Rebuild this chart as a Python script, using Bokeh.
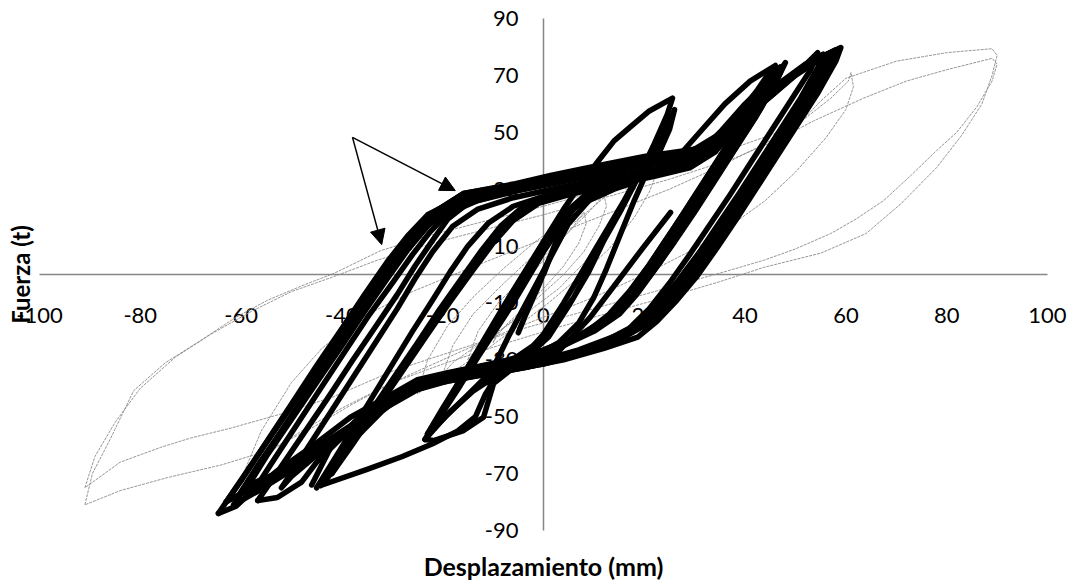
from bokeh.plotting import figure
from bokeh.models import FixedTicker, Label, Arrow, NormalHead
from bokeh.embed import file_html
from bokeh.resources import INLINE
import math

# ---------------- data ----------------
x_ticks = [-100, -80, -60, -40, -20, 0, 20, 40, 60, 80, 100]
y_ticks = [-90, -70, -50, -30, -10, 10, 30, 50, 70, 90]

# thin dotted series (ensayo 2)
g1_x = [-91, -89.5, -86, -81.3, -75, -68, -61, -54.8, -48, -41.7, -32.3, -22, -10, 0, 12, 25, 37, 45, 50.4, 55, 60, 70, 80, 89,
        90, 89, 87, 83, 78, 71, 64, 55, 43.7, 35, 27, 15, 3, -9, -20, -30, -38.3, -46, -54.8, -64, -74.6, -84, -91]
g1_y = [-81, -70, -58, -40.8, -31, -23.2, -15, -9.1, -4, 0.3, 8.4, 14, 19.5, 24, 30, 37, 44, 49, 52.4, 61, 69, 75, 78, 79.4,
        77, 70, 60, 49, 37.6, 25, 14.4, 7.5, 2.5, -2.5, -6.7, -12.5, -18.5, -25, -31.5, -38, -46, -54, -62, -67, -71.4, -76, -81]
g2_x = [-91, -89, -85, -80, -73, -66, -58, -50, -42, -33, -22, -10, 0, 12, 25, 38, 46, 53.6, 63.5, 72, 80, 89,
        90, 89, 86, 82, 78, 73, 67.5, 62, 57, 50, 43.7, 36, 28, 18, 6, -6, -18, -30, -41.7, -52, -62, -70, -76, -84, -91]
g2_y = [-75, -64, -52, -40, -29, -21, -13, -6, -1, 5, 11, 16.5, 21, 27, 33.5, 41, 47, 54, 62, 68, 72, 76,
        74, 68, 59, 50, 43.6, 35, 26, 19.5, 14.4, 9, 5, 1, -3, -8, -14, -20, -27, -34, -43, -49, -54, -57.5, -60.8, -66, -75]
g3_x = [-60, -56, -50, -44, -36, -26, -15, -5, 5, 15, 25, 35, 45, 52, 57, 60.5, 61,
        61.5, 60, 56, 50, 44, 37, 30, 20, 10, 0, -10, -20, -30, -40, -48, -54, -58, -60]
g3_y = [-72, -55, -38, -26, -15, -6, 2, 9, 16, 23, 30, 38, 47, 55, 62, 68, 71,
        66, 58, 48, 36, 26, 17, 9, 0, -8, -15, -22, -30, -38, -47, -55, -62, -67, -72]
g4_x = [-25, -23, -19, -14, -8, -2, 4, 10, 15, 19, 22, 22.5, 21, 18, 13, 7, 1, -5, -11, -17, -21, -25]
g4_y = [-42, -30, -18, -8, 2, 11, 19, 26, 32, 37, 40, 36, 29, 20, 9, -1, -10, -18, -26, -33, -37, -42]
g5_x = [-20, -18, -14, -9, -3, 3, 8, 12, 16, 16.5, 15, 12, 8, 3, -3, -9, -14, -18, -20]
g5_y = [-35, -25, -14, -5, 5, 14, 21, 27, 33, 29, 22, 13, 4, -5, -13, -20, -26, -31, -35]
g6_x = [-15, -13, -9, -4, 1, 5, 9, 12, 12.5, 11, 8, 4, -1, -6, -10, -13, -15]
g6_y = [-30, -20, -10, -1, 8, 15, 22, 28, 24, 17, 8, 0, -8, -16, -22, -26, -30]
g7_x = [-10, -8, -5, -1, 3, 6, 8, 8.5, 7, 4, 0, -4, -7, -9, -10]
g7_y = [-24, -15, -6, 3, 11, 17, 22, 18, 11, 3, -5, -12, -17, -21, -24]

# thick series (ensayo 1)
t1_x = [0, 2, 4, 5, 3.5, 1, -2, -4, -5, -3.5, -1, 1.5, 4, 5.5]
t1_y = [0, 9, 17, 22, 16, 5, -8, -16, -20.5, -14, -4, 7, 17, 23]
t2_x = [5.5, 9, 13, 18, 16, 13, 10, 7, 4, 0, -4, -8, -11, -9.5, -7, -4, -1, 2, 5, 9, 14, 18]
t2_y = [23, 28, 31, 32.4, 26, 17, 8, -1, -10, -21, -29, -35, -38, -31, -22, -12, -2, 8, 18, 26, 30, 32.4]
t3_x = [18, 15, 12, 9, 5, 1, -4, -9.9, -11.9, -16, -21.8, -23.5, -20.5, -17, -13.5, -10, -6.5, -3, 0.5, 4, 7.5, 10.9,
        14, 17.3, 21, 25.6, 24.5, 22, 19, 15.5, 12, 9, 6, 2, -2, -7, -12, -16, -20, -23]
t3_y = [32.4, 22, 12, 1, -11, -22, -30, -38.3, -50.2, -55, -58.4, -58, -49, -38.5, -28, -17.5, -7, 3, 13, 23, 32, 40,
        47, 52, 57.5, 62, 56, 46, 35, 23, 12, 2, -8, -18, -25, -31, -37, -44, -51, -56]
t4_x = [-23, -20, -16.5, -13, -9.5, -6, -2.5, 1, 4.5, 9, 15, 20, 23, 25, 26, 24, 21, 18, 15, 12.5, 10, 7, 3, -2,
        -8, -14, -19, -23.5]
t4_y = [-56, -47, -37, -27, -17, -7, 3, 13, 22, 29, 33, 36, 43, 51, 58, 50, 38, 26, 13, 2, -8, -17, -24, -29,
        -34, -41, -49, -58]
t5_x = [-23.5, -20, -16.5, -13, -9.5, -6, -3, 0, 3, 6, 10, 15, 21, 26, 31, 36, 41, 46, 44.5, 41, 37, 33, 29, 25, 21,
        17, 13, 8, 2, -4, -9, -11.5, -13.5, -17, -22, -28, -35, -44.2]
t5_y = [-58, -48.5, -39, -29, -19.5, -10, -1, 8, 16, 23, 29, 33, 36, 40, 50, 60, 68, 73.5, 68, 58, 47, 36, 25, 14, 3.5,
        -6, -14, -21, -27, -31.5, -35, -42, -50, -55, -59.5, -64, -68.5, -74.2]
t6_x = [-44.2, -40, -35, -30, -25, -20.5, -16.5, -12.5, -8.5, -4, 2, 10, 18, 25, 30, 35, 40, 44, 47, 45.5, 42, 38, 34,
        30, 26, 22, 18, 14, 9, 3, -4, -11, -18, -23, -28, -33, -38, -42]
t6_y = [-74.2, -63, -50, -37, -24, -12, -2, 8, 17, 24, 28.5, 31.5, 34.5, 37, 41, 50, 60, 67, 73, 68, 57, 46, 35,
        24, 13.5, 3, -6, -13.5, -20, -25.5, -29.5, -32.5, -35, -37.5, -42, -49, -58, -70]
t7_x = [-42, -38, -33, -28, -23, -18.5, -14, -10, -6, -1, 6, 14, 22, 29, 34, 38.5, 42, 44.5, 46.5, 45, 41.5, 37.5,
        33.5, 29.5, 25.5, 21.5, 17.5, 13, 7, 0, -7, -14, -20, -24.5, -30, -36, -41, -45, -48, -52.8, -56.7]
t7_y = [-70, -60, -47, -34, -21, -9.5, 1.5, 11, 19, 25, 28.5, 31.5, 34.5, 37.5, 43, 52, 60, 66, 72, 67, 56, 45,
        34, 23, 12.5, 2, -7.5, -15, -21.5, -26.5, -30, -33, -35.5, -37.5, -43, -51, -59, -66, -73, -78.4, -79.5]
t8_x = [-56.7, -53, -48, -43, -38, -33, -29, -25.5, -22, -19, -15, -8, 0, 10, 20, 28, 34, 40, 46, 51, 54.4,
        53, 49, 45, 41, 37, 33, 29, 25, 21, 17, 12, 5, -3, -12, -21, -27, -33, -40, -47, -53, -58.5]
t8_y = [-79.5, -70, -57, -44, -30.5, -17.5, -7, 3, 12, 19.5, 25, 28.5, 31.5, 35, 38.5, 41.5, 46, 55, 64, 72, 78,
        72, 61, 50, 39, 28, 17.5, 7, -3, -12, -19, -23.5, -28, -32, -35, -37.5, -41, -48, -56, -64, -70, -74]
t9_x = [-58.5, -55, -50, -45, -40, -35.5, -31, -27, -23, -19, -12, -4, 6, 16, 26, 32, 38, 44, 50, 56,
        55, 51, 47, 43, 39, 35, 31, 27, 23, 19, 14, 6, -3, -13, -22, -29, -36, -43, -50, -56, -60.5]
t9_y = [-74, -64, -51, -38, -25, -13, -1.5, 8.5, 17, 23, 27, 30.5, 34, 37.5, 41, 44, 52, 61, 70, 77,
        72.5, 61, 50, 39, 28, 17, 6.5, -3, -11, -18.5, -23, -28.5, -32.5, -35.5, -38.5, -43, -51, -59, -67, -73, -77.7]
t10_x = [-60.5, -57, -52, -47, -42, -37.5, -33, -29, -25, -21.8, -15.9, -6, 4, 14, 24, 31, 37, 43, 49, 54, 58,
         57, 53, 49, 45, 41, 37, 33, 29, 25, 21, 16, 9, 0, -10, -20, -26, -32, -39, -46, -53, -59, -63]
t10_y = [-77.7, -68, -55, -41.5, -28, -16, -4, 6.5, 15, 21.8, 28.5, 31.5, 34.5, 38, 41.5, 44, 51, 60, 69, 75.5, 79,
         74, 63, 52, 41, 30, 19, 8.5, -1.5, -10, -17, -22, -27, -31.5, -34.5, -37, -40, -46, -54, -62, -70, -76, -80]
t11_x = [-63, -60, -55, -50, -45, -40, -35.5, -31, -27, -23, -17, -8, 2, 12, 22, 30, 36, 42, 48, 54, 59,
         58, 54.5, 50.5, 46.5, 42.5, 38.5, 34.5, 30.5, 26.5, 22.5, 18.7, 12, 4, -6, -16, -24, -28.4, -33, -38.3,
         -46.2, -52.8, -58, -61, -64.5]
t11_y = [-80, -72.5, -59, -45.5, -32, -19, -7, 4.5, 13.5, 21, 26.5, 30, 33.5, 37, 40.5, 43.5, 50, 59, 68, 75.5, 79.8,
         75, 64, 53, 42, 31, 20, 9.5, -0.5, -9, -16.5, -22, -26, -30, -33.5, -36, -38, -40.8, -45, -50.2,
         -60.8, -69, -76.5, -81.5, -84]
t12_x = [-64.5, -62, -58, -53, -48, -43, -38, -34, -30, -26, -21.8, -15.9, -6, 1.4, 10, 20, 28, 32]
t12_y = [-84, -77.5, -67, -54, -41, -27.5, -14.5, -3.5, 6, 14.5, 21.8, 28.5, 31.8, 34.8, 38, 41.5, 43.5, 44.7]
t13_x = [-5, 3, 9.3, 15.3, 20, 25.2]
t13_y = [-31, -27, -15, -1, 10, 21.8]
t14_x = [-43, -39, -34, -29, -24, -19.5, -15, -11, -7, -2, 5, 13, 21, 28, 33, 38, 42, 45.5, 48, 46.5, 43, 39, 35, 31,
         27, 23, 19, 15, 10, 4, -3, -10, -17, -22, -27, -32, -37, -41, -43]
t14_y = [-72, -61.5, -48.5, -35.5, -22.5, -10.5, 0, 10, 18.5, 25.5, 29.5, 32.5, 35.5, 38.5, 42.5, 52, 61, 68, 74.5, 69,
         58, 47, 36, 25, 14.5, 4, -5.5, -13, -19.5, -24.5, -28.5, -31.5, -34, -36.5, -41, -48, -57, -65, -72]
t15_x = [-61.5, -58, -53, -48, -43, -38.5, -34, -30, -26, -22.5, -17, -9, 1, 11, 21, 29, 35, 41, 47, 52, 57, 56, 52,
         48, 44, 40, 36, 32, 28, 24, 20, 15, 8, -1, -11, -19, -25, -31, -38, -45, -52, -57, -61.5]
t15_y = [-81, -71.5, -58, -44.5, -31, -19, -6.5, 4, 13, 20, 26, 29.5, 33, 36.5, 40, 43, 49.5, 58.5, 67.5, 74, 78, 73,
         62, 51, 40, 29, 18, 7.5, -2, -10.5, -17.5, -22.5, -27.5, -31.5, -35, -37.5, -40.5, -46.5, -55, -63, -71,
         -76.5, -81]
t16_x = [-45, -41, -36, -31, -26, -22, -18.5, -15, -11, -6, 0, 8, 16, 24, 30, 35, 39, 42.5, 45, 43.5, 40, 36, 32, 28,
         24, 20.5, 17, 13.5, 9, 3, -4, -12, -19, -25, -31, -37, -42, -46]
t16_y = [-75, -63.5, -49, -34.5, -20, -9, 1, 10, 18, 24, 27.5, 30.5, 33.5, 36.5, 40, 48, 57, 65, 71.5, 66, 55, 44, 33,
         22, 11.5, 2, -7, -14, -20, -25, -29, -32, -34.5, -37, -43, -51, -60, -74]
t17_x = [-57.5, -54, -49, -44, -39, -34.5, -30, -26, -22.5, -19, -13, -5, 5, 15, 25, 31, 37, 43, 48.5, 53, 55.5,
         54.5, 51, 47, 43, 39, 35, 31, 27, 23, 19, 14.5, 7, -2, -11, -20, -27, -33, -40, -47, -53, -57.5]
t17_y = [-76, -66.5, -53, -39.5, -26, -14, -3, 7, 15, 21.5, 26, 29.5, 33, 36.5, 40, 43, 51, 60, 68.5, 75, 77.5,
         73, 62, 51, 40, 29, 18.5, 8, -1.5, -10, -17, -21.5, -26.5, -31, -34, -36.5, -40, -47, -55.5, -64, -71, -76]
t18_x = [-52, -49, -45, -41, -37, -33, -29, -25.5, -22, -18, -13, -6, 3, 13, 23, 30, 35, 40, 44, 47,
         45.5, 42, 38, 34, 30, 26, 22, 18.5, 15, 10, 4, -3, -10, -17, -24, -29, -35, -41, -46, -50, -52]
t18_y = [-75, -67, -56, -45, -34, -23, -12, -1.5, 8, 17, 23, 27, 30.5, 34, 37.5, 41, 48, 57, 65, 71,
         66, 55, 44, 33, 22, 11.5, 1.5, -7, -14, -20, -25, -29, -32, -35, -38, -42, -50, -58, -65, -71, -75]

# arrows: start point and two targets
arrow_start = (-37.9, 48.2)
arrow_ends = [(-17.5, 29.5), (-32.1, 10.5)]

x_title = "Desplazamiento (mm)"
y_title = "Fuerza (t)"

# ---------------- figure ----------------
# frame covers the whole canvas; data area -100..100 x -90..90 sits inside it
p = figure(width=1073, height=584, x_range=(-107.738, 105.159), y_range=(-109.001, 96.343),
           toolbar_location=None, output_backend="svg",
           min_border_left=0, min_border_right=0, min_border_top=0, min_border_bottom=0)
p.background_fill_color = "white"
p.border_fill_color = "white"
p.outline_line_color = None
p.xgrid.visible = False
p.ygrid.visible = False

FONT = "Lato"
for ax, ticks, bnds in ((p.xaxis, x_ticks, (-100, 100)), (p.yaxis, y_ticks, (-90, 90))):
    ax.ticker = FixedTicker(ticks=ticks)
    ax.major_label_overrides = {t: str(t) for t in ticks}
    ax.bounds = bnds
    ax.fixed_location = 0
    ax.axis_line_color = "#868686"
    ax.axis_line_width = 1.5
    ax.major_tick_line_color = None
    ax.minor_tick_line_color = None
    ax.major_tick_out = 0
    ax.major_tick_in = 0
    ax.major_label_text_font = FONT
    ax.major_label_text_font_size = "22px"
    ax.major_label_text_color = "black"
    ax.level = "underlay"
p.xaxis.major_label_standoff = 33
p.yaxis.major_label_standoff = 25

gray_loops = [(g1_x, g1_y), (g2_x, g2_y), (g3_x, g3_y), (g4_x, g4_y), (g5_x, g5_y), (g6_x, g6_y), (g7_x, g7_y)]
for gx, gy in gray_loops:
    p.line(gx, gy, line_color="#8a8a8a", line_width=0.9, line_dash="3 1")

thick_loops = [(t1_x, t1_y), (t2_x, t2_y), (t3_x, t3_y), (t4_x, t4_y), (t5_x, t5_y), (t6_x, t6_y),
               (t7_x, t7_y), (t8_x, t8_y), (t9_x, t9_y), (t10_x, t10_y), (t11_x, t11_y), (t12_x, t12_y),
               (t13_x, t13_y), (t14_x, t14_y), (t15_x, t15_y), (t16_x, t16_y), (t17_x, t17_y), (t18_x, t18_y)]
for tx, ty in thick_loops:
    p.line(tx, ty, line_color="black", line_width=5.5, line_join="round", line_cap="round")

for ex, ey in arrow_ends:
    p.add_layout(Arrow(end=NormalHead(size=15, fill_color="black", line_color="black"),
                       x_start=arrow_start[0], y_start=arrow_start[1], x_end=ex, y_end=ey,
                       line_color="black", line_width=1.5))

p.add_layout(Label(x=0, y=-90, y_offset=-36, text=x_title, text_font=FONT, text_font_style="bold",
                   text_font_size="25px", text_align="center", text_baseline="alphabetic", text_color="black"))
p.add_layout(Label(x=-100, y=0, x_offset=-19, text=y_title, text_font=FONT, text_font_style="bold",
                   text_font_size="24px", text_align="center", text_baseline="middle", angle=math.pi / 2,
                   text_color="black"))

open("out.html", "w").write(file_html(p, INLINE))
